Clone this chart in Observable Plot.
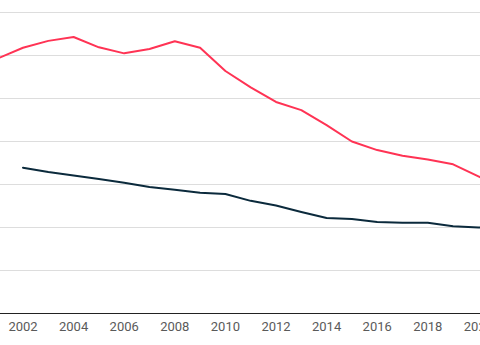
<!DOCTYPE html>
<html>
<head>
<meta charset="utf-8">
<script src="https://cdn.jsdelivr.net/npm/d3@7"></script>
<script src="https://cdn.jsdelivr.net/npm/@observablehq/plot@0.6"></script>
<style>
  html, body { margin: 0; padding: 0; background: #fff; }
  svg { display: block; }
</style>
</head>
<body>
<div id="chart"></div>
<script>
const years = [2001, 2002, 2003, 2004, 2005, 2006, 2007, 2008, 2009, 2010, 2011, 2012, 2013, 2014, 2015, 2016, 2017, 2018, 2019, 2020, 2021];
const redSeries = [59.3, 61.8, 63.4, 64.3, 61.9, 60.5, 61.5, 63.3, 61.8, 56.4, 52.6, 49.2, 47.3, 43.8, 40.0, 38.0, 36.7, 35.8, 34.7, 31.9, 29.0];
const darkYears = [2002, 2003, 2004, 2005, 2006, 2007, 2008, 2009, 2010, 2011, 2012, 2013, 2014, 2015, 2016, 2017, 2018, 2019, 2020, 2021];
const darkSeries = [33.9, 32.9, 32.1, 31.3, 30.4, 29.4, 28.8, 28.1, 27.8, 26.2, 25.1, 23.6, 22.2, 22.0, 21.3, 21.1, 21.1, 20.3, 20.0, 19.8];
const xTicks = [2002, 2004, 2006, 2008, 2010, 2012, 2014, 2016, 2018, 2020];
const yGrid = [10, 20, 30, 40, 50, 60, 70];

const red = years.map((y, i) => ({year: y, value: redSeries[i]}));
const dark = darkYears.map((y, i) => ({year: y, value: darkSeries[i]}));

const chart = Plot.plot({
  width: 480,
  height: 345,
  marginLeft: 0,
  marginRight: 0,
  marginTop: 12,
  marginBottom: 32,
  style: {fontFamily: "Roboto, sans-serif", fontSize: "13px", background: "#fff"},
  x: {domain: [2001.111, 2020.083], ticks: xTicks, tickFormat: d => String(d), tickSize: 0, tickPadding: 8, label: null},
  y: {domain: [0, 70], axis: null},
  marks: [
    Plot.ruleY(yGrid, {stroke: "#dddddd", strokeWidth: 1}),
    Plot.ruleY([0], {stroke: "#222", strokeWidth: 1.2}),
    Plot.axisX({ticks: xTicks, tickFormat: d => String(d), tickSize: 0, tickPadding: 8, label: null, fill: "#5a5a5a", fontSize: 13}),
    Plot.line(dark, {x: "year", y: "value", stroke: "#0b2a3c", strokeWidth: 2, clip: true}),
    Plot.line(red, {x: "year", y: "value", stroke: "#ff3354", strokeWidth: 2, clip: true})
  ]
});
document.getElementById("chart").appendChild(chart);
</script>
</body>
</html>
